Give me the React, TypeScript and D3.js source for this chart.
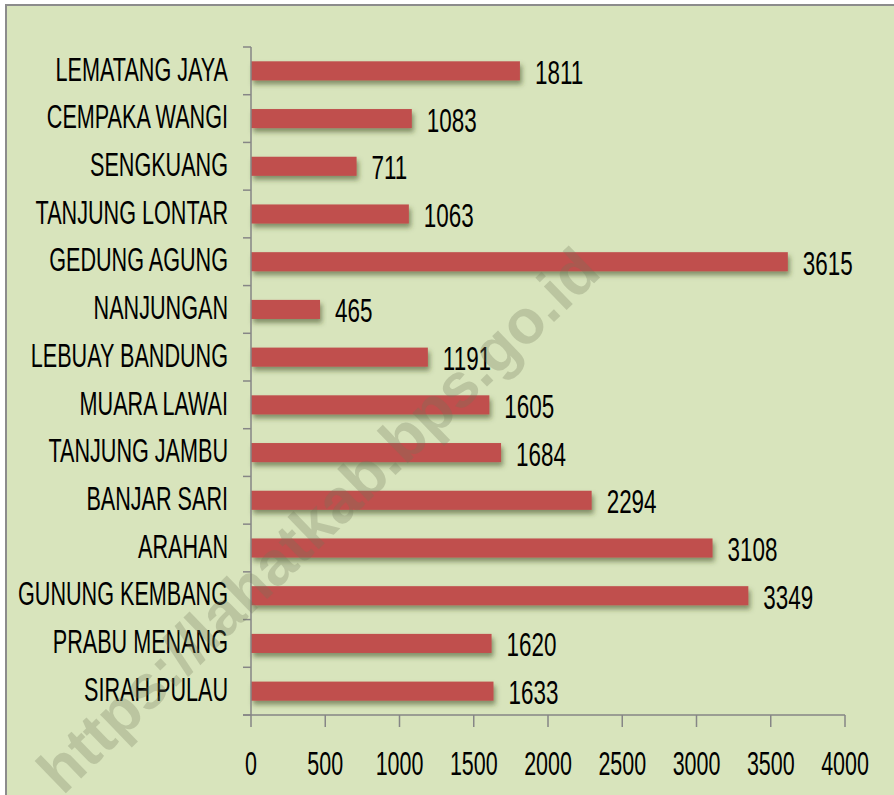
import React from "react";
import * as d3 from "d3";

const categories = [
  "LEMATANG JAYA",
  "CEMPAKA WANGI",
  "SENGKUANG",
  "TANJUNG LONTAR",
  "GEDUNG AGUNG",
  "NANJUNGAN",
  "LEBUAY BANDUNG",
  "MUARA LAWAI",
  "TANJUNG JAMBU",
  "BANJAR SARI",
  "ARAHAN",
  "GUNUNG KEMBANG",
  "PRABU MENANG",
  "SIRAH PULAU",
];
const values = [1811, 1083, 711, 1063, 3615, 465, 1191, 1605, 1684, 2294, 3108, 3349, 1620, 1633];
const xTicks = [0, 500, 1000, 1500, 2000, 2500, 3000, 3500, 4000];
const watermark = "https://lahatkab.bps.go.id";

const W = 894;
const H = 795;
const FONT = "'Liberation Sans', Arial, sans-serif";

export default function App() {
  const x = d3.scaleLinear().domain([0, 4000]).range([251, 845]);
  const y = d3
    .scaleBand<string>()
    .domain(categories)
    .range([47, 715])
    .paddingInner(0.6)
    .paddingOuter(0.3);
  const step = y.step();
  const bw = y.bandwidth();
  const axisColor = "#868686";
  const boundaries = d3.range(categories.length + 1).map((i) => 47 + i * step);

  return (
    <svg
      width={W}
      height={H}
      style={{ position: "absolute", left: 0, top: 0, display: "block" }}
      fontFamily={FONT}
    >
      <defs>
        <filter id="shadow" x="-10%" y="-50%" width="120%" height="250%">
          <feDropShadow dx="2" dy="4" stdDeviation="2.5" floodColor="#3a4a20" floodOpacity="0.55" />
        </filter>
      </defs>
      <rect x={0} y={0} width={W} height={H} fill="#ffffff" />
      <rect x={6} y={5} width={W + 10} height={H + 10} fill="#d8e4bc" stroke="#8c8c8c" strokeWidth={2} />

      {/* bars */}
      {categories.map((c, i) => (
        <rect
          key={c}
          x={x(0)}
          y={y(c)!}
          width={x(values[i]) - x(0)}
          height={bw}
          fill="#c0504d"
          filter="url(#shadow)"
        />
      ))}

      {/* y axis */}
      <line x1={251} x2={251} y1={47} y2={715} stroke={axisColor} strokeWidth={1.5} />
      {boundaries.map((b, i) => (
        <line key={i} x1={243} x2={251} y1={b} y2={b} stroke={axisColor} strokeWidth={1.5} />
      ))}

      {/* x axis */}
      <line x1={243} x2={845} y1={715} y2={715} stroke={axisColor} strokeWidth={1.5} />
      {xTicks.map((t) => (
        <g key={t}>
          <line x1={x(t)} x2={x(t)} y1={715} y2={727} stroke={axisColor} strokeWidth={1.5} />
          <text
            transform={`translate(${x(t)},775) scale(0.66,1)`}
            textAnchor="middle"
            fontSize={32.5}
            fill="#000"
          >
            {t}
          </text>
        </g>
      ))}

      {/* category labels */}
      {categories.map((c) => {
        const cy = y(c)! + bw / 2;
        return (
          <text
            key={c}
            transform={`translate(228,${cy + 9.7}) scale(0.665,1)`}
            textAnchor="end"
            fontSize={32.5}
            fill="#000"
          >
            {c}
          </text>
        );
      })}

      {/* value labels */}
      {categories.map((c, i) => {
        const cy = y(c)! + bw / 2;
        return (
          <text
            key={c}
            transform={`translate(${x(values[i]) + 15},${cy + 13}) scale(0.68,1)`}
            textAnchor="start"
            fontSize={33}
            fill="#000"
          >
            {values[i]}
          </text>
        );
      })}

      {/* watermark */}
      <text
        transform="translate(318,520) rotate(-44)"
        textAnchor="middle"
        dominantBaseline="central"
        fontSize={62}
        fontWeight="bold"
        fill="rgb(110,120,90)"
        fillOpacity={0.28}
      >
        {watermark}
      </text>
    </svg>
  );
}
